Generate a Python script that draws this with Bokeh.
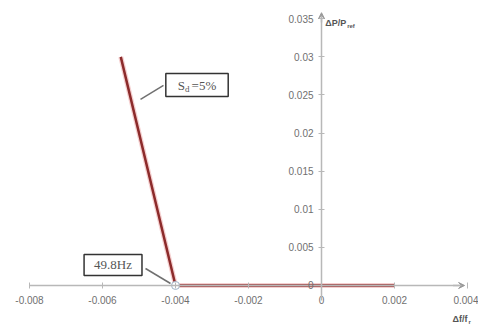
from bokeh.plotting import figure
from bokeh.models import (Range1d, LinearAxis, FixedTicker, CustomJSTickFormatter,
                          Label, Arrow, VeeHead, ColumnDataSource)
from bokeh.embed import file_html
from bokeh.resources import INLINE

# Governor droop characteristic: 5% droop, dead band down to 49.8 Hz
freq_dev = [-0.0055, -0.004, 0.002]      # Δf/f_r
power_dev = [0.03, 0.0, 0.0]             # ΔP/P_ref
knee_x = [-0.004]
knee_y = [0.0]
x_ticks = [-0.008, -0.006, -0.004, -0.002, 0.0, 0.002, 0.004]
y_ticks = [0.0, 0.005, 0.01, 0.015, 0.02, 0.025, 0.03, 0.035]

FONT = "Liberation Sans"
SERIF = "Liberation Serif"
TICK_COLOR = "#707070"

p = figure(width=478, height=324, output_backend="svg", toolbar_location=None,
           x_range=Range1d(-0.008795, 0.004301), y_range=Range1d(-0.00512, 0.0374),
           x_axis_location=None, y_axis_location=None, min_border=0)
p.outline_line_color = None
p.xgrid.visible = False
p.ygrid.visible = False

fmt = CustomJSTickFormatter(code="return String(Math.round(tick*100000)/100000);")

xaxis = LinearAxis(fixed_location=0, ticker=FixedTicker(ticks=x_ticks), formatter=fmt,
                   bounds=(-0.0080, 0.0038))
yaxis = LinearAxis(fixed_location=0, ticker=FixedTicker(ticks=y_ticks), formatter=fmt,
                   bounds=(-0.002, 0.0352))
for ax in (xaxis, yaxis):
    ax.axis_line_color = "#b8b8b8"
    ax.axis_line_width = 1.5
    ax.major_tick_line_color = "#b8b8b8"
    ax.major_tick_in = 3
    ax.major_tick_out = 3
    ax.minor_tick_line_color = None
    ax.major_label_text_font = FONT
    ax.major_label_text_font_size = "10px"
    ax.major_label_text_color = TICK_COLOR
xaxis.major_label_standoff = 8
yaxis.major_label_standoff = 5
p.add_layout(xaxis, "below")
p.add_layout(yaxis, "left")

# arrow heads on both axes
p.add_layout(Arrow(end=VeeHead(size=6, line_color="#9a9a9a", fill_color="#9a9a9a"),
                   x_start=0.0036, y_start=0, x_end=0.00392, y_end=0,
                   line_color="#b8b8b8", line_width=1.5))
p.add_layout(Arrow(end=VeeHead(size=6, line_color="#9a9a9a", fill_color="#9a9a9a"),
                   x_start=0, y_start=0.0345, x_end=0, y_end=0.0358,
                   line_color="#b8b8b8", line_width=1.5))

# droop line
src = ColumnDataSource(dict(x=freq_dev, y=power_dev))
p.line("x", "y", source=src, line_color="#f5d0d0", line_width=5)
p.line("x", "y", source=src, line_color="#8c2b2b", line_width=2.5)
p.scatter(knee_x, knee_y, size=8, fill_color="white", line_color="#9db3c8", line_width=1)

# droop callout
p.line([-0.004959, -0.004329], [0.02441, 0.02625], line_color="#707070", line_width=1.5)
p.add_layout(Label(x=-0.003411, y=0.02631, text="S\u00a0\u00a0=5%", text_font=SERIF,
                   text_font_size="13px", text_color="#555", text_baseline="middle",
                   text_align="center", border_line_color="#333", border_line_width=1.5,
                   background_fill_color="white", padding=(12, 4)))
p.add_layout(Label(x=-0.003411, y=0.02631, x_offset=-12, y_offset=-4, text="d",
                   text_font=SERIF, text_font_size="9px", text_color="#555",
                   text_baseline="middle", text_align="left"))

# dead-band callout
p.line([-0.004822, -0.004137], [0.00223, 0.00026], line_color="#707070", line_width=1.5)
p.add_layout(Label(x=-0.005712, y=0.00269, text="49.8Hz", text_font=SERIF,
                   text_font_size="13px", text_color="#555", text_baseline="middle",
                   text_align="center", border_line_color="#333", border_line_width=1.5,
                   background_fill_color="white", padding=(10, 3)))

# axis names
p.add_layout(Label(x=0.0001, y=0.0345, text="ΔP/P", text_font=FONT, text_font_size="9px",
                   text_font_style="bold", text_color="#555", text_baseline="middle"))
p.add_layout(Label(x=0.0001, y=0.0345, x_offset=22, y_offset=-3, text="ref", text_font=FONT,
                   text_font_size="6px", text_font_style="bold", text_color="#555",
                   text_baseline="middle"))
p.add_layout(Label(x=0.00359, y=-0.00446, text="Δf/f", text_font=FONT, text_font_size="9px",
                   text_font_style="bold", text_color="#555", text_baseline="middle"))
p.add_layout(Label(x=0.00359, y=-0.00446, x_offset=16, y_offset=-3, text="r", text_font=FONT,
                   text_font_size="6px", text_font_style="bold", text_color="#555",
                   text_baseline="middle"))

open("out.html", "w").write(file_html(p, INLINE))
